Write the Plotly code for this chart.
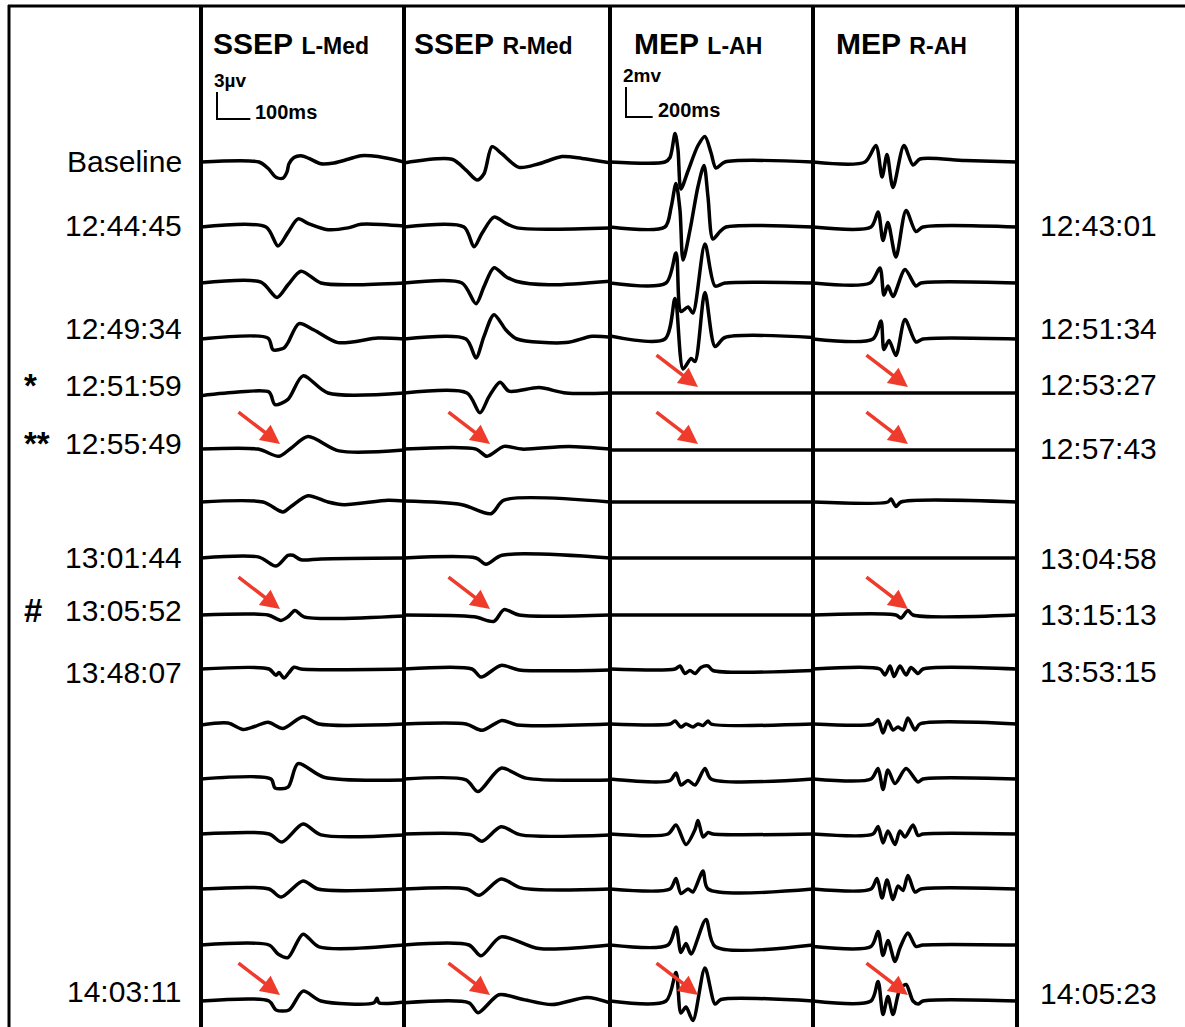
import plotly.graph_objects as go

W, H = 1185, 1027

# ---------------- text ----------------
LEFT_LABELS = ["Baseline", "12:44:45", "", "12:49:34", "12:51:59", "12:55:49", "",
               "13:01:44", "13:05:52", "13:48:07", "", "", "", "", "", "14:03:11"]
LEFT_MARKS = ["", "", "", "", "*", "**", "", "", "#", "", "", "", "", "", "", ""]
RIGHT_LABELS = ["", "12:43:01", "", "12:51:34", "12:53:27", "12:57:43", "",
                "13:04:58", "13:15:13", "13:53:15", "", "", "", "", "", "14:05:23"]
MODALITY = ["SSEP", "SSEP", "MEP", "MEP"]
SITE = ["L-Med", "R-Med", "L-AH", "R-AH"]
SCALE_AMP = ["3µv", None, "2mv", None]
SCALE_TIME = ["100ms", None, "200ms", None]
SCALE_AMP_VAL = [3, None, 2, None]      # µV / mV
SCALE_TIME_VAL = [100, None, 200, None]  # ms

# ---------------- waveforms: time (ms), amplitude (µV SSEP, mV MEP) ----------------
LMED_T = [
    [0, 174, 201, 225, 246, 258, 264, 279, 300, 324, 360, 399, 441, 480, 531, 609],
    [0, 195, 231, 261, 291, 321, 381, 441, 480, 609],
    [0, 180, 228, 261, 300, 360, 459, 609],
    [0, 201, 216, 249, 261, 294, 339, 411, 531, 609],
    [0, 111, 204, 222, 261, 306, 381, 609],
    [0, 171, 234, 270, 321, 414, 609],
    [0, 186, 246, 270, 321, 381, 429, 561, 609],
    [0, 174, 225, 261, 276, 300, 360, 609],
    [0, 201, 240, 261, 282, 309, 609],
    [0, 204, 225, 234, 249, 264, 279, 300, 609],
    [0, 81, 126, 159, 201, 246, 306, 354, 609],
    [0, 210, 222, 261, 291, 369, 609],
    [0, 204, 243, 306, 360, 609],
    [0, 204, 240, 306, 351, 609],
    [0, 204, 231, 261, 306, 354, 609],
    [0, 204, 225, 264, 306, 360, 519, 528, 534, 609],
]
LMED_V = [
    [0, 0, -0.7, -1.7, -1.8, -1.1, -0.2, 0.5, 0.7, 0.4, -0.2, -0.1, 0.3, 0.7, 0.6, 0],
    [0, 0, -2.1, -0.6, 0.9, 0.4, -0.3, -0.1, 0.3, 0.1],
    [0, 0.1, -1.6, -0.2, 1.3, 0, -0.2, 0],
    [0, 0.1, -1.2, -1.0, -0.4, 1.7, 1.0, -0.4, 0.1, 0],
    [-0.3, 0.1, 0.1, -1.3, -0.7, 1.9, 0, 0],
    [0.1, 0.1, -0.7, 0.2, 1.5, -0.1, 0],
    [0, 0, -1.1, -0.5, 0.7, 0, -0.3, 0.2, 0.1],
    [0, 0.1, -0.9, 0.3, 0.3, -0.2, -0.1, 0],
    [0, 0, -0.6, -0.2, 0.5, -0.2, -0.1],
    [0, 0, -0.7, -0.4, -1.0, -0.4, 0.2, 0, 0],
    [-0.1, 0.1, -0.6, -0.3, 0.2, -0.5, 0.8, 0, 0],
    [0, 0, -1.0, -0.9, 1.7, 0.2, -0.1],
    [0, 0, -0.9, 1.1, -0.1, -0.1],
    [0, 0, -0.9, 0.9, 0, 0],
    [0, 0, -1.0, -1.4, 1.2, -0.2, 0],
    [0, 0, -1.0, -1.0, 1.1, 0, -0.2, 0.3, -0.2, -0.1],
]
RMED_T = [
    [0, 144, 186, 219, 240, 264, 294, 345, 405, 474, 534, 618],
    [0, 180, 210, 234, 270, 306, 339, 618],
    [0, 174, 216, 240, 270, 306, 336, 435, 618],
    [0, 186, 216, 240, 270, 306, 339, 486, 564, 618],
    [0, 189, 228, 255, 288, 315, 405, 486, 618],
    [0, 216, 249, 300, 354, 495, 618],
    [0, 174, 261, 300, 618],
    [0, 216, 246, 294, 618],
    [0, 210, 270, 300, 345, 618],
    [0, 204, 231, 291, 345, 618],
    [0, 186, 234, 294, 339, 618],
    [0, 186, 222, 291, 366, 618],
    [0, 201, 234, 291, 351, 618],
    [0, 189, 225, 291, 354, 618],
    [0, 195, 231, 291, 405, 618],
    [0, 195, 222, 285, 354, 444, 549, 618],
]
RMED_V = [
    [-0.1, 0.3, -0.9, -2.0, -1.3, 1.7, 0.9, -0.6, -0.2, 0.6, 0.4, -0.1],
    [0, 0, -2.2, -0.7, 1.1, 0.4, -0.1, -0.1],
    [0, 0, -2.3, -0.4, 1.7, 0.7, 0.2, -0.2, 0.2],
    [0, 0, -2.1, 0.3, 2.7, 1.0, 0, -0.4, 0.3, 0.2],
    [0, 0, -2.2, -0.4, 1.2, 0.2, 0.6, 0, 0],
    [0.1, 0.1, -0.7, 0.4, 0.1, 0.4, 0.1],
    [0.1, -0.3, -1.3, 0.2, 0],
    [0, 0, -0.7, 0.3, 0],
    [0, -0.2, -0.7, 0.6, 0, 0],
    [0, 0, -0.9, 0.4, -0.1, -0.1],
    [0, 0, -0.7, 0.4, -0.1, 0],
    [0, -0.1, -1.4, 1.2, 0.1, -0.1],
    [0, -0.1, -0.8, 0.8, -0.1, -0.1],
    [0, 0, -0.7, 1.1, 0.1, 0],
    [0, 0, -1.2, 0.9, -0.4, 0],
    [-0.2, -0.2, -1.3, 0.7, 0.2, -0.4, 0.4, -0.2],
]
LAH_T = [
    [0, 412, 450, 488, 510, 532, 585, 660, 712, 758, 795, 862, 1522],
    [0, 412, 458, 495, 525, 548, 600, 660, 705, 735, 772, 825, 870, 1522],
    [0, 420, 495, 532, 585, 622, 712, 788, 862, 1522],
    [0, 412, 488, 548, 608, 638, 712, 788, 862, 1522],
    [0, 1522],
    [0, 1522],
    [0, 1522],
    [0, 1522],
    [0, 1522],
    [0, 488, 525, 562, 600, 638, 682, 735, 772, 1522],
    [0, 450, 488, 532, 570, 622, 660, 698, 735, 758, 1522],
    [0, 450, 495, 532, 585, 638, 712, 758, 1522],
    [0, 435, 495, 570, 638, 660, 698, 735, 772, 1522],
    [0, 450, 495, 532, 585, 622, 698, 735, 1522],
    [0, 435, 495, 532, 570, 608, 720, 788, 1522],
    [0, 420, 495, 532, 570, 622, 712, 788, 832, 1522],
]
LAH_V = [
    [0, 0, 0.3, 1.9, 0.8, -1.8, -0.6, 1.1, 1.7, 0.6, -0.4, 0, 0],
    [0, 0, 1.3, 2.9, 1.1, -2.2, -0.2, 2.7, 4.1, 2.0, -0.8, -0.3, 0, 0],
    [0, 0, 2.0, -1.9, -1.6, -2.0, 2.6, -0.2, 0, 0],
    [0.2, 0, 2.7, -2.0, -1.3, -1.5, 3.1, -0.5, 0.1, 0.1],
    [0, 0],
    [0, 0],
    [0, 0],
    [0, 0],
    [0, 0],
    [0, 0, 0.2, -0.3, -0.1, -0.3, 0.1, 0.2, -0.1, -0.1],
    [0, 0, 0.2, -0.2, 0, -0.2, 0, -0.1, 0.2, 0, 0],
    [0, -0.1, 0.4, -0.4, -0.1, -0.4, 0.7, 0, 0],
    [0, 0, 0.6, -0.7, 0.3, 0.9, -0.2, 0.1, 0, 0],
    [0, 0, 0.7, -0.3, 0, -0.2, 1.2, 0, 0],
    [0, 0, 1.2, -0.5, 0.1, -0.6, 1.7, -0.1, 0],
    [0, 0, 1.9, -0.8, -0.4, -1.3, 2.2, -0.2, 0.1, 0],
]
RAH_T = [
    [0, 390, 472, 518, 555, 600, 682, 750, 802, 1140, 1530],
    [0, 435, 488, 525, 562, 622, 698, 772, 825, 1530],
    [0, 428, 502, 532, 562, 600, 690, 772, 810, 1530],
    [0, 450, 510, 532, 570, 622, 690, 772, 825, 1530],
    [0, 1530],
    [0, 1530],
    [0, 562, 585, 622, 660, 1530],
    [0, 1530],
    [0, 622, 660, 712, 750, 1530],
    [0, 502, 540, 578, 608, 652, 698, 735, 788, 825, 1530],
    [0, 450, 488, 525, 562, 600, 638, 675, 712, 765, 802, 1530],
    [0, 435, 488, 525, 562, 615, 698, 788, 825, 1530],
    [0, 450, 488, 525, 562, 615, 652, 690, 750, 788, 825, 1530],
    [0, 435, 480, 518, 555, 600, 638, 675, 712, 765, 810, 1530],
    [0, 435, 488, 525, 562, 615, 652, 712, 772, 825, 1530],
    [0, 435, 488, 525, 562, 600, 652, 698, 750, 788, 825, 1530],
]
RAH_V = [
    [0, 0, 1.1, -1.0, 0.5, -1.7, 1.1, -0.2, 0.2, 0.1, 0],
    [0, 0, 1.0, -0.9, 0.3, -2.0, 1.1, -0.3, 0, 0],
    [0, 0, 1.0, -0.8, -0.2, -0.9, 0.9, -0.2, 0, 0],
    [0, 0, 1.2, -0.7, -0.1, -1.1, 1.3, -0.2, 0, 0],
    [0, 0],
    [0, 0],
    [0, 0, 0.2, -0.3, 0, 0],
    [0, 0],
    [0, 0, -0.2, 0.3, 0, 0],
    [0, 0, -0.4, 0.2, -0.5, 0.2, -0.4, 0.1, -0.3, 0, 0],
    [0, 0, 0.3, -0.6, 0.2, -0.4, -0.2, -0.4, 0.4, -0.4, 0, 0],
    [0, 0, 0.7, -0.7, 0.6, -0.3, 0.7, -0.2, 0, 0],
    [0, 0, 0.5, -0.6, 0.2, -0.7, 0.2, -0.2, 0.6, -0.1, 0, 0],
    [0, 0, 0.7, -0.6, 0.6, -0.7, 0.2, -0.1, 0.9, -0.2, 0, 0],
    [-0.1, -0.1, 0.9, -0.7, 0.3, -1.1, -0.2, 0.8, -0.1, 0, 0],
    [0, 0, 1.3, -0.9, 0.3, -0.9, 0.8, 1.1, 0, -0.2, 0, 0],
]
WAVE_T = [LMED_T, RMED_T, LAH_T, RAH_T]
WAVE_V = [LMED_V, RMED_V, LAH_V, RAH_V]

# red arrows: (row index, column index)
ARROWS = [(4, 2), (4, 3), (5, 0), (5, 1), (5, 2), (5, 3),
          (8, 0), (8, 1), (8, 3), (15, 0), (15, 1), (15, 2), (15, 3)]
ARROW_TIP_MS = [237, 258, 660, 712]

# ---------------- layout geometry (pixels) ----------------
DIV_X = [201, 404, 610, 813, 1017]           # column separators
ROW_PX = [162, 227, 283, 339, 393, 450, 502, 558, 615, 669, 724, 779, 834, 889, 945, 1001]
MS_PER_PX = [3.0, 3.0, 7.5, 7.5]
PX_PER_UNIT = [9.0, 9.0, 15.0, 15.0]
LEFT_LABEL_Y = [162, 225, None, 328, 385, 443, None, 557, 610, 672, None, None, None, None, None, 991]
RIGHT_LABEL_Y = [None, 225, None, 328, 384, 448, None, 558, 614, 671, None, None, None, None, None, 993]
HEADER_X = [211, 412, 632, 834]
SCALE_X_PX = [217, None, 626, None]
SCALE_BOTTOM_PX = [119, None, 117, None]

FONT = "Liberation Sans, Arial, Helvetica, sans-serif"


def px_x(p):
    return p / W


def px_y(p):
    return 1 - p / H


fig = go.Figure()
layout_axes = {}
for ci in range(4):
    sfx = "" if ci == 0 else str(ci + 1)
    k = PX_PER_UNIT[ci]
    x_end = (DIV_X[ci + 1] - DIV_X[ci]) * MS_PER_PX[ci]
    layout_axes["xaxis" + sfx] = dict(domain=[px_x(DIV_X[ci]), px_x(DIV_X[ci + 1])],
                                      range=[0, x_end], visible=False, fixedrange=True,
                                      anchor="y" + sfx)
    layout_axes["yaxis" + sfx] = dict(domain=[0, 1], range=[-H / k, 0], visible=False,
                                      fixedrange=True, anchor="x" + sfx)
    for r in range(16):
        ys = [-ROW_PX[r] / k + a for a in WAVE_V[ci][r]]
        fig.add_trace(go.Scatter(
            x=WAVE_T[ci][r], y=ys, xaxis="x" + sfx, yaxis="y" + sfx, mode="lines",
            line=dict(color="black", width=3.5, shape="spline", smoothing=0.8),
            hoverinfo="skip", showlegend=False))
    # calibration bars
    if SCALE_AMP_VAL[ci] is not None:
        t0 = (SCALE_X_PX[ci] - DIV_X[ci]) * MS_PER_PX[ci]
        yb = -SCALE_BOTTOM_PX[ci] / k
        fig.add_trace(go.Scatter(
            x=[t0, t0, t0 + SCALE_TIME_VAL[ci]], y=[yb + SCALE_AMP_VAL[ci], yb, yb],
            xaxis="x" + sfx, yaxis="y" + sfx, mode="lines",
            line=dict(color="black", width=2), hoverinfo="skip", showlegend=False))

annotations = []
# column headers
for ci in range(4):
    annotations.append(dict(
        xref="paper", yref="paper", x=px_x(HEADER_X[ci]), y=px_y(43),
        xanchor="left", yanchor="middle", showarrow=False,
        text=f"<b>{MODALITY[ci]}</b> <b><span style='font-size:23px'>{SITE[ci]}</span></b>",
        font=dict(family=FONT, size=30, color="black")))
# scale labels
for ci in range(4):
    if SCALE_AMP[ci] is None:
        continue
    xs = SCALE_X_PX[ci]
    yb = SCALE_BOTTOM_PX[ci]
    bar_top = yb - SCALE_AMP_VAL[ci] * PX_PER_UNIT[ci]
    x_end_px = xs + SCALE_TIME_VAL[ci] / MS_PER_PX[ci]
    annotations.append(dict(xref="paper", yref="paper", x=px_x(xs - 5), y=px_y(bar_top - 12),
                            xanchor="left", yanchor="middle", showarrow=False,
                            text=f"<b>{SCALE_AMP[ci]}</b>",
                            font=dict(family=FONT, size=19, color="black")))
    annotations.append(dict(xref="paper", yref="paper", x=px_x(x_end_px + 3), y=px_y(yb - 7),
                            xanchor="left", yanchor="middle", showarrow=False,
                            text=f"<b>{SCALE_TIME[ci]}</b>",
                            font=dict(family=FONT, size=20, color="black")))
# row labels
for r in range(16):
    if LEFT_LABELS[r]:
        annotations.append(dict(xref="paper", yref="paper", x=px_x(184), y=px_y(LEFT_LABEL_Y[r]),
                                xanchor="right", yanchor="middle", showarrow=False,
                                text=LEFT_LABELS[r], font=dict(family=FONT, size=30, color="black")))
    if LEFT_MARKS[r]:
        annotations.append(dict(xref="paper", yref="paper", x=px_x(22), y=px_y(LEFT_LABEL_Y[r]),
                                xanchor="left", yanchor="middle", showarrow=False,
                                text=f"<b>{LEFT_MARKS[r]}</b>",
                                font=dict(family=FONT, size=33, color="black")))
    if RIGHT_LABELS[r]:
        annotations.append(dict(xref="paper", yref="paper", x=px_x(1038), y=px_y(RIGHT_LABEL_Y[r]),
                                xanchor="left", yanchor="middle", showarrow=False,
                                text=RIGHT_LABELS[r], font=dict(family=FONT, size=30, color="black")))
# red arrows
for r, ci in ARROWS:
    sfx = "" if ci == 0 else str(ci + 1)
    k = PX_PER_UNIT[ci]
    annotations.append(dict(
        xref="x" + sfx, yref="y" + sfx, x=ARROW_TIP_MS[ci], y=-ROW_PX[r] / k + 6 / k,
        ax=-43, ay=-33, axref="pixel", ayref="pixel", showarrow=True,
        arrowhead=2, arrowsize=1.1, arrowwidth=3.5, arrowcolor="#ee3b2b", standoff=0, text=""))

shapes = []
for xd in DIV_X:
    shapes.append(dict(type="line", xref="paper", yref="paper", x0=px_x(xd), x1=px_x(xd),
                       y0=0, y1=px_y(5), line=dict(color="black", width=4)))
shapes.append(dict(type="line", xref="paper", yref="paper", x0=px_x(9), x1=px_x(9),
                   y0=0, y1=px_y(5), line=dict(color="black", width=3)))
shapes.append(dict(type="line", xref="paper", yref="paper", x0=px_x(8), x1=1,
                   y0=px_y(6), y1=px_y(6), line=dict(color="black", width=3)))

fig.update_layout(
    width=W, height=H, margin=dict(l=0, r=0, t=0, b=0),
    paper_bgcolor="white", plot_bgcolor="rgba(0,0,0,0)",
    showlegend=False, annotations=annotations, shapes=shapes, **layout_axes)

fig.write_html("out.html", config={"displayModeBar": False},
               post_script="document.body.style.margin='0';document.body.style.overflow='hidden';")
